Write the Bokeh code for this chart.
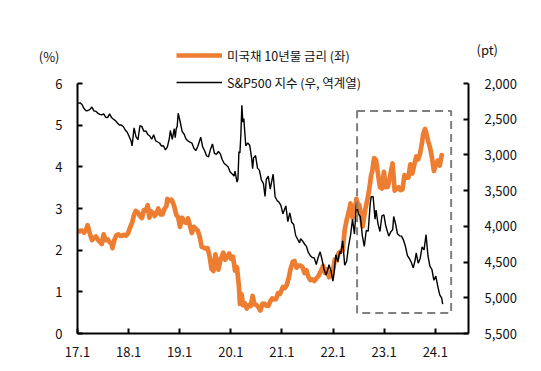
import pandas as pd
from bokeh.plotting import figure
from bokeh.models import (Range1d, LinearAxis, FixedTicker, NumeralTickFormatter,
                          BoxAnnotation, Legend, LegendItem, ColumnDataSource)
from bokeh.embed import file_html
from bokeh.resources import INLINE

# ---------------- data ----------------
yield_dates = [
    "2017-01-06", "2017-01-20", "2017-02-03", "2017-02-17", "2017-03-03", "2017-03-14", "2017-03-31",
    "2017-04-14", "2017-04-28", "2017-05-12", "2017-05-26", "2017-06-09", "2017-06-23", "2017-07-07",
    "2017-07-21", "2017-08-04", "2017-08-18", "2017-09-01", "2017-09-08", "2017-09-22", "2017-10-06",
    "2017-10-20", "2017-11-03", "2017-11-17", "2017-12-01", "2017-12-15", "2017-12-29", "2018-01-12",
    "2018-01-26", "2018-02-09", "2018-02-21", "2018-03-09", "2018-03-23", "2018-04-06", "2018-04-20",
    "2018-05-04", "2018-05-17", "2018-05-29", "2018-06-08", "2018-06-22", "2018-07-06", "2018-07-20",
    "2018-08-01", "2018-08-17", "2018-08-31", "2018-09-14", "2018-09-28", "2018-10-05", "2018-10-19",
    "2018-11-02", "2018-11-09", "2018-11-23", "2018-12-07", "2018-12-21", "2019-01-03", "2019-01-18",
    "2019-02-01", "2019-02-15", "2019-03-01", "2019-03-15", "2019-03-29", "2019-04-12", "2019-04-26",
    "2019-05-10", "2019-05-24", "2019-06-07", "2019-06-21", "2019-07-05", "2019-07-19", "2019-08-02",
    "2019-08-16", "2019-08-30", "2019-09-13", "2019-09-27", "2019-10-04", "2019-10-18", "2019-11-08",
    "2019-11-22", "2019-12-06", "2019-12-20", "2020-01-03", "2020-01-17", "2020-01-31", "2020-02-14",
    "2020-02-28", "2020-03-06", "2020-03-13", "2020-03-20", "2020-03-27", "2020-04-09", "2020-04-24",
    "2020-05-08", "2020-05-22", "2020-06-05", "2020-06-19", "2020-07-03", "2020-07-17", "2020-07-31",
    "2020-08-14", "2020-08-28", "2020-09-11", "2020-09-25", "2020-10-09", "2020-10-23", "2020-11-06",
    "2020-11-20", "2020-12-04", "2020-12-18", "2021-01-08", "2021-01-22", "2021-02-05", "2021-02-19",
    "2021-03-05", "2021-03-19", "2021-03-31", "2021-04-16", "2021-04-30", "2021-05-14", "2021-05-28",
    "2021-06-11", "2021-06-25", "2021-07-09", "2021-07-23", "2021-08-06", "2021-08-20", "2021-09-03",
    "2021-09-17", "2021-10-01", "2021-10-22", "2021-11-05", "2021-11-19", "2021-12-03", "2021-12-17",
    "2021-12-31", "2022-01-14", "2022-01-28", "2022-02-11", "2022-02-25", "2022-03-11", "2022-03-25",
    "2022-04-08", "2022-04-22", "2022-05-06", "2022-05-20", "2022-06-03", "2022-06-17", "2022-06-24",
    "2022-07-08", "2022-07-22", "2022-08-01", "2022-08-19", "2022-09-02", "2022-09-16", "2022-09-30",
    "2022-10-07", "2022-10-21", "2022-11-04", "2022-11-18", "2022-12-02", "2022-12-16", "2022-12-30",
    "2023-01-13", "2023-01-27", "2023-02-10", "2023-03-02", "2023-03-17", "2023-03-31", "2023-04-14",
    "2023-04-28", "2023-05-12", "2023-05-26", "2023-06-09", "2023-06-23", "2023-07-07", "2023-07-21",
    "2023-08-04", "2023-08-18", "2023-09-01", "2023-09-15", "2023-09-29", "2023-10-06", "2023-10-20",
    "2023-10-27", "2023-11-10", "2023-11-24", "2023-12-08", "2023-12-22", "2024-01-05", "2024-01-19",
    "2024-02-02", "2024-02-16", "2024-02-23",
]
yield_pct = [
    2.42, 2.47, 2.47, 2.42, 2.49, 2.60, 2.39,
    2.24, 2.29, 2.33, 2.25, 2.20, 2.15, 2.38,
    2.24, 2.26, 2.19, 2.16, 2.05, 2.25, 2.36,
    2.38, 2.34, 2.35, 2.37, 2.35, 2.41, 2.55,
    2.66, 2.85, 2.94, 2.90, 2.82, 2.77, 2.96,
    2.95, 3.08, 2.78, 2.94, 2.90, 2.82, 2.89,
    3.00, 2.86, 2.86, 2.99, 3.06, 3.23, 3.19,
    3.21, 3.18, 3.05, 2.85, 2.79, 2.56, 2.78,
    2.69, 2.66, 2.76, 2.59, 2.41, 2.56, 2.51,
    2.47, 2.32, 2.08, 2.06, 2.04, 2.05, 1.86,
    1.55, 1.50, 1.90, 1.69, 1.53, 1.75, 1.94,
    1.77, 1.84, 1.92, 1.79, 1.84, 1.51, 1.59,
    1.13, 0.71, 0.96, 0.92, 0.68, 0.73, 0.60,
    0.68, 0.66, 0.90, 0.70, 0.68, 0.63, 0.55,
    0.71, 0.72, 0.67, 0.66, 0.77, 0.84, 0.82,
    0.83, 0.97, 0.95, 1.12, 1.09, 1.17, 1.34,
    1.57, 1.72, 1.74, 1.58, 1.63, 1.63, 1.59,
    1.45, 1.52, 1.36, 1.28, 1.30, 1.26, 1.32,
    1.37, 1.47, 1.62, 1.45, 1.54, 1.35, 1.41,
    1.51, 1.78, 1.78, 1.94, 1.97, 2.00, 2.48,
    2.72, 2.90, 3.12, 2.78, 2.94, 3.23, 3.13,
    3.08, 2.77, 2.57, 2.98, 3.19, 3.45, 3.80,
    3.88, 4.21, 4.16, 3.83, 3.51, 3.48, 3.88,
    3.51, 3.52, 3.74, 4.08, 3.43, 3.47, 3.51,
    3.44, 3.46, 3.80, 3.74, 3.74, 4.06, 3.84,
    4.05, 4.25, 4.18, 4.33, 4.59, 4.78, 4.91,
    4.84, 4.63, 4.47, 4.23, 3.90, 4.05, 4.15,
    4.03, 4.28, 4.25,
]

spx_dates = [
    "2017-01-06", "2017-01-20", "2017-02-03", "2017-02-17", "2017-03-03", "2017-03-17", "2017-03-31",
    "2017-04-14", "2017-04-28", "2017-05-12", "2017-05-26", "2017-06-09", "2017-06-23", "2017-07-07",
    "2017-07-21", "2017-08-04", "2017-08-18", "2017-09-01", "2017-09-15", "2017-09-29", "2017-10-13",
    "2017-10-27", "2017-11-10", "2017-11-24", "2017-12-08", "2017-12-22", "2018-01-05", "2018-01-19",
    "2018-01-26", "2018-02-09", "2018-02-23", "2018-03-09", "2018-03-23", "2018-04-06", "2018-04-20",
    "2018-05-04", "2018-05-18", "2018-06-01", "2018-06-15", "2018-06-29", "2018-07-13", "2018-07-27",
    "2018-08-10", "2018-08-24", "2018-09-07", "2018-09-21", "2018-10-05", "2018-10-19", "2018-10-26",
    "2018-11-09", "2018-11-23", "2018-11-30", "2018-12-07", "2018-12-14", "2018-12-21", "2019-01-04",
    "2019-01-18", "2019-02-01", "2019-02-15", "2019-03-01", "2019-03-15", "2019-03-29", "2019-04-12",
    "2019-04-26", "2019-05-10", "2019-05-31", "2019-06-14", "2019-06-28", "2019-07-12", "2019-07-26",
    "2019-08-09", "2019-08-23", "2019-09-06", "2019-09-20", "2019-10-04", "2019-10-18", "2019-11-01",
    "2019-11-15", "2019-11-29", "2019-12-13", "2019-12-27", "2020-01-10", "2020-01-24", "2020-01-31",
    "2020-02-14", "2020-02-21", "2020-02-28", "2020-03-06", "2020-03-13", "2020-03-20", "2020-03-27",
    "2020-04-03", "2020-04-17", "2020-05-01", "2020-05-15", "2020-05-29", "2020-06-05", "2020-06-12",
    "2020-06-26", "2020-07-10", "2020-07-24", "2020-08-07", "2020-08-21", "2020-09-02", "2020-09-11",
    "2020-09-25", "2020-10-09", "2020-10-30", "2020-11-13", "2020-11-27", "2020-12-11", "2020-12-24",
    "2021-01-08", "2021-01-29", "2021-02-12", "2021-02-26", "2021-03-12", "2021-03-26", "2021-04-09",
    "2021-04-23", "2021-05-07", "2021-05-14", "2021-05-28", "2021-06-11", "2021-06-25", "2021-07-09",
    "2021-07-23", "2021-08-06", "2021-08-20", "2021-09-03", "2021-09-17", "2021-10-01", "2021-10-15",
    "2021-10-29", "2021-11-12", "2021-11-26", "2021-12-03", "2021-12-17", "2021-12-31", "2022-01-07",
    "2022-01-21", "2022-02-04", "2022-02-18", "2022-02-25", "2022-03-11", "2022-03-25", "2022-04-08",
    "2022-04-22", "2022-05-06", "2022-05-20", "2022-06-03", "2022-06-17", "2022-07-01", "2022-07-15",
    "2022-07-29", "2022-08-12", "2022-08-26", "2022-09-09", "2022-09-23", "2022-09-30", "2022-10-14",
    "2022-10-28", "2022-11-04", "2022-11-18", "2022-12-02", "2022-12-16", "2022-12-30", "2023-01-13",
    "2023-02-03", "2023-02-17", "2023-03-03", "2023-03-10", "2023-03-24", "2023-04-06", "2023-04-21",
    "2023-05-05", "2023-05-19", "2023-06-02", "2023-06-16", "2023-06-30", "2023-07-14", "2023-07-28",
    "2023-08-11", "2023-08-18", "2023-09-01", "2023-09-15", "2023-09-29", "2023-10-13", "2023-10-27",
    "2023-11-10", "2023-11-24", "2023-12-08", "2023-12-22", "2024-01-05", "2024-01-19", "2024-02-02",
    "2024-02-16", "2024-02-23",
]
spx_pt = [
    2277, 2271, 2297, 2351, 2383, 2378, 2363,
    2329, 2384, 2390, 2416, 2432, 2438, 2425,
    2472, 2477, 2426, 2477, 2500, 2519, 2553,
    2581, 2582, 2602, 2651, 2683, 2743, 2810,
    2873, 2620, 2747, 2786, 2588, 2604, 2670,
    2663, 2713, 2735, 2780, 2718, 2801, 2819,
    2833, 2875, 2872, 2930, 2886, 2768, 2658,
    2781, 2633, 2760, 2633, 2600, 2417, 2532,
    2671, 2707, 2776, 2804, 2822, 2834, 2907,
    2940, 2881, 2752, 2887, 2942, 3014, 3026,
    2919, 2847, 2979, 2992, 2952, 2986, 3067,
    3120, 3141, 3169, 3240, 3265, 3295, 3226,
    3380, 3338, 2954, 2972, 2711, 2305, 2541,
    2489, 2875, 2831, 2864, 3044, 3194, 3041,
    3009, 3185, 3216, 3351, 3397, 3580, 3341,
    3298, 3477, 3270, 3585, 3638, 3663, 3703,
    3824, 3714, 3934, 3811, 3943, 3974, 4128,
    4180, 4232, 4173, 4204, 4247, 4281, 4369,
    4411, 4436, 4441, 4535, 4433, 4357, 4471,
    4605, 4682, 4595, 4538, 4620, 4766, 4677,
    4398, 4500, 4349, 4385, 4204, 4543, 4488,
    4272, 4123, 3901, 4108, 3675, 3825, 3863,
    4130, 4280, 4058, 4067, 3693, 3586, 3583,
    3901, 3771, 3965, 4072, 3852, 3840, 3999,
    4136, 4079, 4046, 3862, 3971, 4105, 4133,
    4136, 4192, 4282, 4410, 4450, 4505, 4582,
    4464, 4370, 4516, 4450, 4288, 4328, 4117,
    4415, 4559, 4604, 4755, 4697, 4840, 4959,
    5006, 5089,
]

x_ticks = [2017, 2018, 2019, 2020, 2021, 2022, 2023, 2024]
x_tick_labels = ["17.1", "18.1", "19.1", "20.1", "21.1", "22.1", "23.1", "24.1"]
left_ticks = [0, 1, 2, 3, 4, 5, 6]
right_ticks = [2000, 2500, 3000, 3500, 4000, 4500, 5000, 5500]

series_names = ["미국채 10년물 금리 (좌)", "S&P500 지수 (우, 역계열)"]
unit_left = "(%)"
unit_right = "(pt)"


def dec_year(dates):
    d = pd.to_datetime(pd.Series(dates))
    days = 365 + d.dt.is_leap_year.astype(int)
    return (d.dt.year + (d.dt.dayofyear - 1) / days).tolist()


FONT = "Noto Sans CJK KR"
ORANGE = "#ED7D31"
TEXT = "#111111"

# left scale: 0..6 spans 250 px; frame is taller so the legend fits inside it
Y_TOP = 7.08
SPX_TOP = 2000 - (Y_TOP - 6) * (3500 / 6)

p = figure(frame_width=391, frame_height=295,
           min_border_left=77, min_border_right=57, min_border_top=38, min_border_bottom=29,
           x_range=Range1d(2017.0, 2024.65), y_range=Range1d(0, Y_TOP),
           output_backend="svg", toolbar_location=None, tools="")
p.outline_line_color = None
p.xgrid.visible = False
p.ygrid.visible = False
p.background_fill_color = "white"
p.border_fill_color = "white"

p.extra_y_ranges = {"spx": Range1d(start=5500, end=SPX_TOP)}

src_y = ColumnDataSource(dict(x=dec_year(yield_dates), y=yield_pct))
src_s = ColumnDataSource(dict(x=dec_year(spx_dates), y=spx_pt))

r_yield = p.line("x", "y", source=src_y, line_color=ORANGE, line_width=4.7, line_join="round")
r_spx = p.line("x", "y", source=src_s, y_range_name="spx", line_color="black", line_width=1.4)


def style_axis(ax, standoff):
    ax.axis_line_color = "black"
    ax.axis_line_width = 2
    ax.major_tick_line_color = "black"
    ax.major_tick_line_width = 2
    ax.major_tick_in = 5
    ax.major_tick_out = 0
    ax.minor_tick_line_color = None
    ax.major_label_text_font = FONT
    ax.major_label_text_font_size = "13px"
    ax.major_label_text_color = TEXT
    ax.major_label_standoff = standoff


xa = p.xaxis[0]
xa.ticker = FixedTicker(ticks=x_ticks)
xa.major_label_overrides = {t: l for t, l in zip(x_ticks, x_tick_labels)}
style_axis(xa, 13)

ya = p.yaxis[0]
ya.ticker = FixedTicker(ticks=left_ticks)
ya.bounds = (0, 6)
style_axis(ya, 15)

ra = LinearAxis(y_range_name="spx", ticker=FixedTicker(ticks=right_ticks),
                formatter=NumeralTickFormatter(format="0,0"), bounds=(2000, 5500))
style_axis(ra, 16)
p.add_layout(ra, "right")


def unit_axis(pos, text, standoff, **kw):
    ax = LinearAxis(ticker=FixedTicker(ticks=[pos]), major_label_overrides={pos: text}, **kw)
    ax.axis_line_color = None
    ax.major_tick_line_color = None
    ax.minor_tick_line_color = None
    ax.major_label_text_font = FONT
    ax.major_label_text_font_size = "13px"
    ax.major_label_text_color = TEXT
    ax.major_label_standoff = standoff
    return ax


p.add_layout(unit_axis(6.64, unit_left, -13), "left")
p.add_layout(unit_axis(1530, unit_right, -49, y_range_name="spx"), "right")

# highlighted period
box = BoxAnnotation(left=2022.47, right=2024.31, bottom=0.49, top=5.34,
                    fill_alpha=0, line_color="#7f7f7f", line_alpha=1.0,
                    line_width=2, line_dash="8 5")
p.add_layout(box)

legend = Legend(items=[LegendItem(label=series_names[0], renderers=[r_yield]),
                       LegendItem(label=series_names[1], renderers=[r_spx])],
                location=(99, 241), orientation="vertical",
                glyph_width=46, glyph_height=20, label_height=20, label_standoff=5,
                spacing=7, padding=0, margin=0,
                border_line_color=None, background_fill_alpha=0,
                label_text_font=FONT, label_text_font_size="12.5px", label_text_color=TEXT)
p.add_layout(legend)

open("out.html", "w").write(file_html(p, INLINE))
